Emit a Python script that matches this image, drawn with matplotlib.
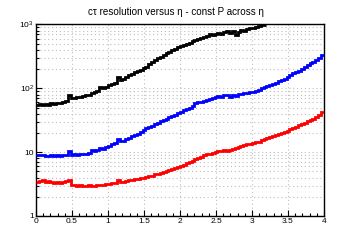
import numpy as np
import matplotlib
matplotlib.use("Agg")
import matplotlib.pyplot as plt
from matplotlib.ticker import FixedLocator, FixedFormatter, NullFormatter

plt.rcParams['font.family'] = ['Liberation Sans', 'DejaVu Sans']
plt.rcParams['mathtext.fontset'] = 'custom'
plt.rcParams['mathtext.rm'] = 'Liberation Sans'

title = "cτ resolution versus η - const P across η"
eta_min, eta_max, bin_w = 0.0, 4.0, 0.04

black_vals = [55, 57, 54, 56, 55, 58, 57, 59, 58, 62,
              64, 78, 71, 70, 72, 74, 76, 78, 80, 86,
              88, 92, 104, 101, 106, 112, 117, 122, 150, 136,
              142, 150, 160, 165, 178, 190, 196, 205, 218, 242,
              255, 275, 296, 312, 335, 352, 372, 395, 412, 440,
              462, 478, 500, 520, 545, 575, 590, 610, 640, 660,
              700, 680, 720, 740, 700, 760, 800, 730, 790, 680,
              760, 820, 800, 850, 870, 880, 920, 940, 970, 990]

blue_vals = [9.1, 8.9, 9.0, 8.7, 8.8, 9.0, 8.8, 8.9, 8.7, 9.0,
             8.9, 10.3, 9.0, 9.2, 9.0, 9.3, 9.2, 9.5, 9.8, 10.9,
             10.6, 11.0, 11.6, 11.3, 12.0, 12.5, 13.2, 13.8, 16.0, 14.8,
             15.2, 15.8, 16.6, 17.8, 18.5, 19.5, 20.8, 22.0, 23.8, 25.0,
             26.0, 27.5, 28.8, 30.5, 31.5, 33.5, 35.0, 36.5, 38.5, 40.5,
             42.5, 45.0, 47.5, 50.0, 53.0, 58.0, 60.0, 62.0, 64.0, 66.5,
             68.0, 70.5, 72.0, 75.0, 72.0, 78.0, 80.0, 74.0, 80.0, 76.0,
             82.0, 81.0, 84.0, 85.0, 87.0, 89.0, 92.0, 95.0, 100, 104,
             108, 112, 117, 122, 128, 134, 142, 150, 160, 172,
             180, 188, 200, 212, 228, 245, 258, 275, 300, 335]

red_vals = [3.4, 3.5, 3.6, 3.4, 3.5, 3.4, 3.3, 3.4, 3.3, 3.4,
            3.5, 3.7, 3.1, 3.05, 3.0, 3.1, 2.95, 3.0, 3.05, 3.0,
            2.9, 3.05, 3.1, 3.1, 3.2, 3.15, 3.3, 3.25, 3.7, 3.4,
            3.45, 3.5, 3.6, 3.7, 3.8, 3.85, 3.9, 4.0, 4.1, 4.2,
            4.3, 4.5, 4.6, 4.8, 4.9, 5.1, 5.2, 5.5, 5.6, 5.9,
            6.1, 6.4, 6.7, 7.0, 7.4, 7.8, 8.2, 8.5, 8.9, 9.2,
            9.5, 9.7, 10.0, 10.3, 10.5, 10.8, 10.5, 11.0, 11.3, 11.5,
            12.0, 12.6, 13.0, 13.2, 13.5, 13.8, 14.2, 14.5, 15.5, 15.8,
            16.5, 17.2, 18.0, 18.8, 19.5, 20.3, 21.0, 21.8, 23.0, 24.0,
            25.0, 26.5, 27.5, 29.0, 30.5, 32.0, 33.5, 35.0, 38.0, 42.0]

series = [(black_vals, 'black'), (blue_vals, '#0000ff'), (red_vals, '#ff0000')]

x_ticks = [0, 0.5, 1, 1.5, 2, 2.5, 3, 3.5, 4]
x_labels = ['0', '0.5', '1', '1.5', '2', '2.5', '3', '3.5', '4']
y_ticks = [1, 10, 100, 1000]
y_labels = ['1', '10', r'$\mathregular{10^{2}}$', r'$\mathregular{10^{3}}$']

fig = plt.figure(figsize=(3.6, 2.4), dpi=100)
ax = fig.add_axes([0.1, 0.1, 0.8, 0.798])

for vals, col in series:
    v = np.asarray(vals, dtype=float)
    edges = eta_min + bin_w * np.arange(len(v) + 1)
    ax.stairs(v, edges, baseline=None, color=col, linewidth=2.0, zorder=3)

ax.set_yscale('log')
ax.set_xlim(eta_min, eta_max)
ax.set_ylim(1, 1000)

ax.xaxis.set_major_locator(FixedLocator(x_ticks))
ax.xaxis.set_major_formatter(FixedFormatter(x_labels))
ax.xaxis.set_minor_locator(FixedLocator(np.arange(0, 4.001, 0.1)))
ax.yaxis.set_major_locator(FixedLocator(y_ticks))
ax.yaxis.set_major_formatter(FixedFormatter(y_labels))
minor_y = [m * 10 ** d for d in range(0, 3) for m in range(2, 10)]
ax.yaxis.set_minor_locator(FixedLocator(minor_y))
ax.yaxis.set_minor_formatter(NullFormatter())

ax.tick_params(which='both', direction='in', top=False, right=False,
               labelsize=6, pad=1.5, width=0.8, color='black')
ax.tick_params(which='major', length=4)
ax.tick_params(which='minor', length=2)

ax.grid(True, which='major', axis='x', color='#bdbdbd', linestyle=(0, (1, 2.5)), lw=0.8)
ax.grid(True, which='both', axis='y', color='#bdbdbd', linestyle=(0, (1, 2.5)), lw=0.8)
ax.set_axisbelow(True)

for s in ['top', 'right']:
    ax.spines[s].set_linestyle((0, (2, 1)))
    ax.spines[s].set_linewidth(1.0)
for s in ['left', 'bottom']:
    ax.spines[s].set_linewidth(1.0)

fig.text(0.49, 0.95, title, ha='center', va='center', fontsize=7.1)

fig.savefig('out.png', dpi=100, facecolor='white')
